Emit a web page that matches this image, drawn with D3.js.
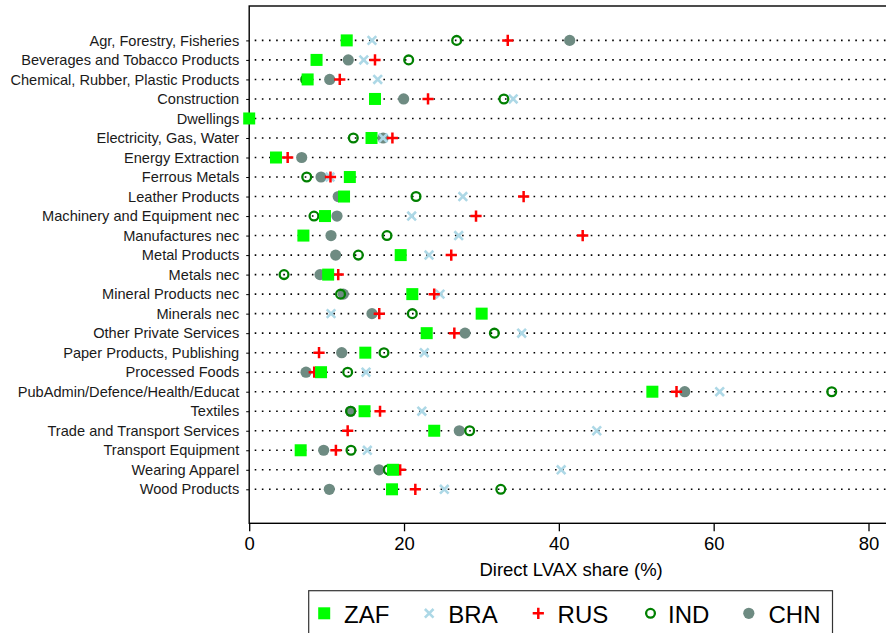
<!DOCTYPE html>
<html>
<head>
<meta charset="utf-8">
<script src="https://cdn.jsdelivr.net/npm/d3@7"></script>
<style>
  html, body { margin: 0; padding: 0; background: #fff; overflow: hidden; }
  svg { display: block; font-family: "Liberation Sans", Arial, Helvetica, sans-serif; }
</style>
</head>
<body>
<svg id="chart" width="886" height="633"></svg>
<script>
// Sectors, top to bottom
const categories = [
  "Agr, Forestry, Fisheries",
  "Beverages and Tobacco Products",
  "Chemical, Rubber, Plastic Products",
  "Construction",
  "Dwellings",
  "Electricity, Gas, Water",
  "Energy Extraction",
  "Ferrous Metals",
  "Leather Products",
  "Machinery and Equipment nec",
  "Manufactures nec",
  "Metal Products",
  "Metals nec",
  "Mineral Products nec",
  "Minerals nec",
  "Other Private Services",
  "Paper Products, Publishing",
  "Processed Foods",
  "PubAdmin/Defence/Health/Educat",
  "Textiles",
  "Trade and Transport Services",
  "Transport Equipment",
  "Wearing Apparel",
  "Wood Products"
];

// Direct LVAX share (%) by country
const zaf = [12.6, 8.7, 7.55, 16.25, 0, 15.8, 3.46, 13.0, 12.25, 9.79, 7.0, 19.57, 10.2, 21.07, 30.03, 22.93, 15.0, 9.28, 52.08, 14.9, 23.9, 6.65, 18.58, 18.45];
const bra = [15.86, 14.8, 16.6, 34.1, null, 17.3, null, 10.44, 27.6, 20.99, 27.06, 23.23, null, 24.65, 10.57, 35.2, 22.62, 15.09, 60.78, 22.3, 44.9, 15.26, 40.3, 25.2];
const rus = [33.4, 16.25, 11.7, 23.1, null, 18.5, 4.97, 10.5, 35.45, 29.3, 43.08, 26.1, 11.5, 23.9, 16.8, 26.5, 9.02, 8.4, 55.2, 16.9, 12.72, 11.2, 19.5, 21.46];
const ind = [26.8, 20.6, 7.3, 32.9, null, 13.45, null, 7.43, 21.55, 8.37, 17.8, 14.1, 4.5, 11.8, 21.07, 31.67, 17.41, 12.72, 75.25, 13.1, 28.48, 13.15, 17.97, 32.5];
const chn = [41.4, 12.8, 10.4, 19.95, null, 17.3, 6.78, 9.28, 11.5, 11.34, 10.57, 11.17, 9.15, 12.16, 15.86, 27.88, 11.95, 7.34, 56.26, 13.1, 27.14, 9.62, 16.77, 10.35];

const xTicks = [0, 20, 40, 60, 80];
const xTitle = "Direct LVAX share (%)";

// Legend order and drawing order (first drawn lies underneath)
const legendSeries = [
  { key: "ZAF", values: zaf, symbol: "square", color: "#00ff00" },
  { key: "BRA", values: bra, symbol: "cross",  color: "#add8e6" },
  { key: "RUS", values: rus, symbol: "plus",   color: "#ff0000" },
  { key: "IND", values: ind, symbol: "ring",   color: "#008000" },
  { key: "CHN", values: chn, symbol: "dot",    color: "#6e8b82" }
];
const drawOrder = ["CHN", "IND", "BRA", "RUS", "ZAF"];

const svg = d3.select("#chart");

const plot = { left: 249.2, right: 893, top: 6, bottom: 523.3 };

const x = d3.scaleLinear().domain([0, 80]).range([249.2, 868.5]);
const y = d3.scalePoint().domain(categories).range([40.4, 489.3]);

// dotted guide lines
svg.append("g").selectAll("line")
  .data(categories)
  .join("line")
  .attr("x1", plot.left + 5.5)
  .attr("x2", plot.right)
  .attr("y1", d => y(d))
  .attr("y2", d => y(d))
  .attr("stroke", "#000")
  .attr("stroke-width", 1.6)
  .attr("stroke-dasharray", "1.6 5.55");

// plot frame
svg.append("rect")
  .attr("x", plot.left).attr("y", plot.top)
  .attr("width", plot.right - plot.left)
  .attr("height", plot.bottom - plot.top)
  .attr("fill", "none")
  .attr("stroke", "#000")
  .attr("stroke-width", 1.4);

// x axis
const xAxis = d3.axisBottom(x).tickValues(xTicks).tickSize(8).tickPadding(6).tickFormat(d3.format("d"));
const gx = svg.append("g").attr("transform", `translate(0,${plot.bottom})`).call(xAxis);
gx.select(".domain").remove();
gx.selectAll(".tick line").attr("stroke", "#000").attr("stroke-width", 1.3);
gx.selectAll(".tick text")
  .attr("fill", "#000")
  .style("font-size", "18.5px")
  .style("font-family", "'Liberation Sans', Arial, sans-serif");

svg.append("text")
  .attr("x", (plot.left + plot.right) / 2)
  .attr("y", 575.5)
  .attr("text-anchor", "middle")
  .style("font-size", "18.5px")
  .attr("fill", "#000")
  .text(xTitle);

// y axis
const yAxis = d3.axisLeft(y).tickSize(3).tickPadding(7);
const gy = svg.append("g").attr("transform", `translate(${plot.left},0)`).call(yAxis);
gy.select(".domain").remove();
gy.selectAll(".tick line").attr("stroke", "#000").attr("stroke-width", 1);
gy.selectAll(".tick text")
  .attr("fill", "#1a1a1a")
  .style("font-size", "14.6px")
  .style("font-family", "'Liberation Sans', Arial, sans-serif");

// marker painter
function drawSymbol(g, symbol, color, cx, cy) {
  if (symbol === "square") {
    g.append("rect").attr("x", cx - 6).attr("y", cy - 6).attr("width", 12).attr("height", 12).attr("fill", color);
  } else if (symbol === "cross") {
    const s = 4.3;
    g.append("path")
      .attr("d", `M${cx - s},${cy - s}L${cx + s},${cy + s}M${cx - s},${cy + s}L${cx + s},${cy - s}`)
      .attr("stroke", color).attr("stroke-width", 2.6).attr("fill", "none");
  } else if (symbol === "plus") {
    const s = 5.6;
    g.append("path")
      .attr("d", `M${cx - s},${cy}L${cx + s},${cy}M${cx},${cy - s}L${cx},${cy + s}`)
      .attr("stroke", color).attr("stroke-width", 2.5).attr("fill", "none");
  } else if (symbol === "ring") {
    g.append("circle").attr("cx", cx).attr("cy", cy).attr("r", 4.4)
      .attr("fill", "none").attr("stroke", color).attr("stroke-width", 2.3);
  } else if (symbol === "dot") {
    g.append("circle").attr("cx", cx).attr("cy", cy).attr("r", 5.6).attr("fill", color);
  }
}

const marks = svg.append("g");
drawOrder.forEach(key => {
  const s = legendSeries.find(d => d.key === key);
  const g = marks.append("g").attr("class", "series-" + key);
  s.values.forEach((v, i) => {
    if (v === null || v === undefined) return;
    drawSymbol(g, s.symbol, s.color, x(v), y(categories[i]));
  });
});

// legend
const legend = svg.append("g");
legend.append("rect")
  .attr("x", 308.7).attr("y", 590.7)
  .attr("width", 523.8).attr("height", 70)
  .attr("fill", "#fff").attr("stroke", "#333").attr("stroke-width", 1.2);

const legendSymX = [324.2, 429.2, 538.3, 650.5, 748.8];
const legendTextX = [344, 448.3, 557.6, 668, 768.5];
legendSeries.forEach((s, i) => {
  drawSymbol(legend, s.symbol, s.color, legendSymX[i], 613.3);
  legend.append("text")
    .attr("x", legendTextX[i]).attr("y", 622.7)
    .style("font-size", "24px")
    .attr("fill", "#000")
    .text(s.key);
});
</script>
</body>
</html>
